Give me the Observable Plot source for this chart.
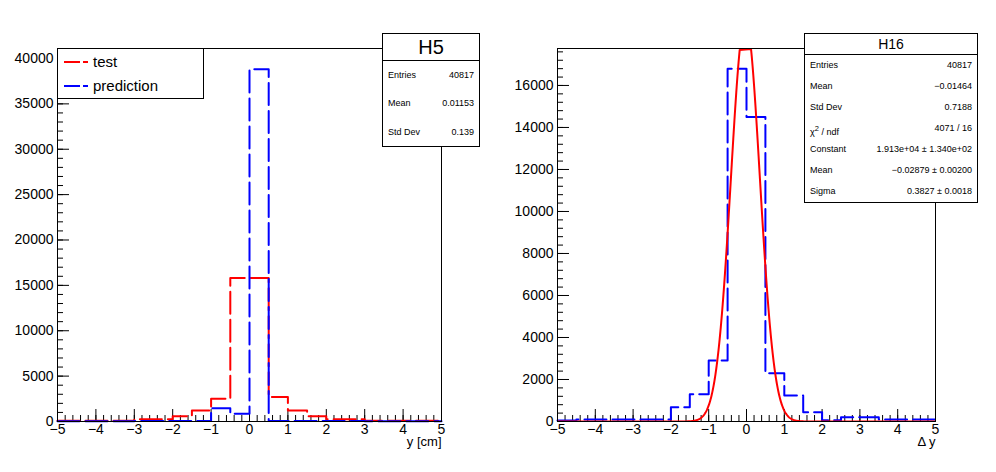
<!DOCTYPE html>
<html><head><meta charset="utf-8">
<script src="https://cdn.jsdelivr.net/npm/d3@7"></script>
<script src="https://cdn.jsdelivr.net/npm/@observablehq/plot@0.6"></script>
<style>
body{margin:0;background:#fff;font-family:"Liberation Sans",Arial,sans-serif}
#wrap{position:relative;width:996px;height:472px;display:flex}
.box{position:absolute;background:#fff;border:1px solid #000;font-size:9px}
.box .t{text-align:center;border-bottom:1px solid #000}
.box .r{display:flex;justify-content:space-between;padding:0 5px}
.leg{position:absolute;background:#fff;border:1px solid #000;font-size:15px}
</style></head><body>
<div id="wrap"></div>
<script>
// bin lower edges, 0.5 wide, -5 .. 5
const edges = d3.range(20).map(i => -5 + i * 0.5)
const testCounts = [70,70,70,70,250,250,580,1200,2500,15800,15800,2700,1200,580,250,250,70,70,70,70]
const predCounts = [20,20,20,20,50,50,50,50,1470,850,38800,50,50,50,50,50,20,20,20,20]
const dyCounts   = [50,100,100,100,100,100,680,1300,2900,16800,14500,2300,1240,440,60,200,200,100,100,100]
// gaussian fit of H16
const fit = {constant: 19130, mean: -0.02879, sigma: 0.3827}
const xTicks = d3.range(-5, 6)
const xMinor = d3.range(-5, 5.01, 0.2)

const steps = counts => [...edges.map((x, i) => ({x, y: counts[i]})), {x: 5, y: counts[counts.length - 1]}]
const fitPts = d3.range(-5, 5.001, 0.01).map(x => ({x, y: fit.constant * Math.exp(-0.5 * ((x - fit.mean) / fit.sigma) ** 2)}))

function panel(series, yTop, yMajor, yMinor, xlabel, ml, mr) {
  return Plot.plot({
    width: 498, height: 472,
    marginLeft: ml, marginRight: mr, marginTop: 48, marginBottom: 51,
    x: {domain: [-5, 5], label: null},
    y: {domain: [0, yTop], label: null},
    style: {fontFamily: "Liberation Sans, Arial, sans-serif", fontSize: "14px", color: "#000"},
    marks: [
      Plot.axisX({ticks: xMinor, tickSize: -6, text: null, label: null}),
      Plot.axisX({ticks: xTicks, tickSize: -12, tickPadding: 15, tickFormat: d => String(d).replace("-", "−"), label: null}),
      Plot.axisY({ticks: yMinor, tickSize: -6, text: null, label: null}),
      Plot.axisY({ticks: yMajor, tickSize: -12, tickPadding: 16, tickFormat: d => String(d), label: null}),
      Plot.text([xlabel], {frameAnchor: "bottom-right", dy: 24, fontSize: 13, textAnchor: "end"}),
      ...series,
      Plot.frame({stroke: "#000"})
    ]
  })
}

const left = panel([
  Plot.line(steps(testCounts), {x: "x", y: "y", curve: "step-after", stroke: "#f00", strokeWidth: 2, strokeDasharray: "22,6"}),
  Plot.line(steps(predCounts), {x: "x", y: "y", curve: "step-after", stroke: "#00f", strokeWidth: 2, strokeDasharray: "22,6"})
], 41100, d3.range(0, 40001, 5000), d3.range(0, 41001, 1000), "y [cm]", 57, 57)

const right = panel([
  Plot.line(steps(dyCounts), {x: "x", y: "y", curve: "step-after", stroke: "#00f", strokeWidth: 2, strokeDasharray: "22,6"}),
  Plot.line(fitPts.filter(d => d.y < 17760), {x: "x", y: "y", stroke: "#f00", strokeWidth: 2, clip: true})
], 17760, d3.range(0, 16001, 2000), d3.range(0, 17601, 400), "Δ y", 59, 61)

const wrap = document.getElementById("wrap")
wrap.append(left, right)

function box(x, y, w, h, title, tsize, rows) {
  const b = document.createElement("div")
  b.className = "box"
  Object.assign(b.style, {left: x + "px", top: y + "px", width: w + "px", height: h + "px"})
  const t = document.createElement("div")
  t.className = "t"; t.textContent = title
  t.style.fontSize = tsize + "px"; t.style.height = (tsize + 6) + "px"; t.style.lineHeight = (tsize + 6) + "px"
  b.append(t)
  const rh = (h - tsize - 7) / rows.length
  for (const [k, v] of rows) {
    const r = document.createElement("div")
    r.className = "r"; r.style.height = rh + "px"; r.style.lineHeight = rh + "px"
    r.innerHTML = `<span>${k}</span><span>${v}</span>`
    b.append(r)
  }
  wrap.append(b)
}
box(382, 33, 96, 112, "H5", 20, [["Entries", "40817"], ["Mean", "0.01153"], ["Std Dev", "0.139"]])
box(804, 33, 172, 168, "H16", 14, [["Entries", "40817"], ["Mean", "−0.01464"], ["Std Dev", "0.7188"],
  ["χ<sup>2</sup> / ndf", "4071 / 16"], ["Constant", "1.913e+04 ± 1.340e+02"], ["Mean", "−0.02879 ± 0.00200"], ["Sigma", "0.3827 ± 0.0018"]])

const leg = document.createElement("div")
leg.className = "leg"
Object.assign(leg.style, {left: "57px", top: "48px", width: "145px", height: "49px"})
leg.innerHTML = `<svg width="145" height="49">
<line x1="6" x2="30" y1="13" y2="13" stroke="#f00" stroke-width="2" stroke-dasharray="16,3"/>
<text x="35" y="18" font-size="15">test</text>
<line x1="6" x2="30" y1="37" y2="37" stroke="#00f" stroke-width="2" stroke-dasharray="16,3"/>
<text x="35" y="42" font-size="15">prediction</text></svg>`
wrap.append(leg)
</script>
</body></html>
